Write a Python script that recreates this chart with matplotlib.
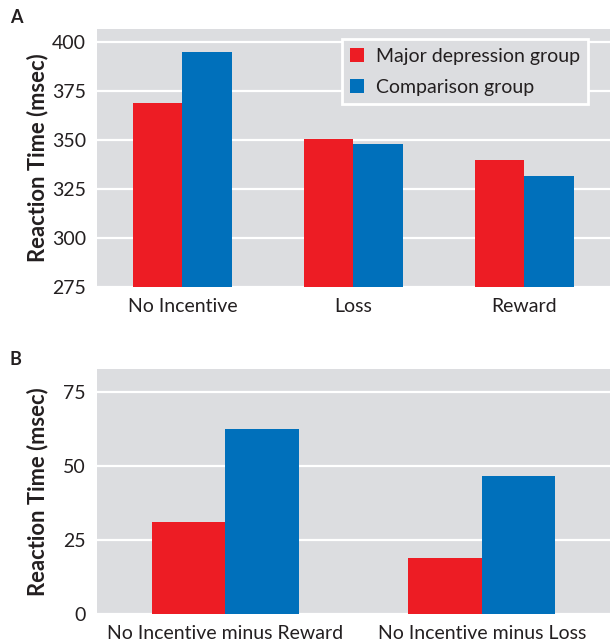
import numpy as np
import matplotlib
matplotlib.use("Agg")
import matplotlib.pyplot as plt

plt.rcParams["font.family"] = ["Lato", "DejaVu Sans"]

# panel A data
conditions = ["No Incentive", "Loss", "Reward"]
depression_rt = [369, 350.5, 340]
comparison_rt = [395, 348, 331.5]

# panel B data
contrasts = ["No Incentive minus Reward", "No Incentive minus Loss"]
depression_diff = [31, 19]
comparison_diff = [62.5, 46.7]

groups = ["Major depression group", "Comparison group"]
RED = "#ed1c24"
BLUE = "#0070bb"
BG = "#dcdde0"
INK = "#231f20"


def style_axis(ax, yticks):
    ax.set_facecolor(BG)
    for s in ax.spines.values():
        s.set_visible(False)
    ax.set_yticks(yticks)
    ax.yaxis.grid(True, color="white", linewidth=1.6)
    ax.set_axisbelow(True)
    ax.tick_params(axis="both", length=0, labelsize=14, colors=INK)
    ax.tick_params(axis="y", pad=8)
    ax.tick_params(axis="x", pad=8)
    ax.set_ylabel("Reaction Time (msec)", fontsize=15.8, fontweight="bold",
                  color=INK)
    # label sits right next to the tick numbers, as in the original
    ax.yaxis.set_label_coords(-0.095, 0.5)


fig = plt.figure(figsize=(6.10, 6.42), dpi=100)

# panel A
axA = fig.add_axes([0.159, 0.553, 0.841, 0.402])
x = np.arange(len(conditions))
w = 0.289
axA.bar(x - w / 2, np.array(depression_rt) - 275, w, bottom=275, color=RED,
        label=groups[0])
axA.bar(x + w / 2, np.array(comparison_rt) - 275, w, bottom=275, color=BLUE,
        label=groups[1])
style_axis(axA, [275, 300, 325, 350, 375, 400])
axA.set_ylim(275, 406.6)
axA.set_xlim(-0.5, 2.5)
axA.set_xticks(x)
axA.set_xticklabels(conditions)
leg = axA.legend(loc="upper left", bbox_to_anchor=(0.477, 0.961), fontsize=14,
                 facecolor=BG, edgecolor="white", framealpha=1, fancybox=False,
                 handlelength=0.72, handleheight=0.72, handletextpad=0.57,
                 borderpad=0.45, labelspacing=0.72, borderaxespad=0)
leg.get_frame().set_linewidth(2)
for t in leg.get_texts():
    t.set_color(INK)

# panel B
axB = fig.add_axes([0.159, 0.0431, 0.841, 0.3821])
xb = np.arange(len(contrasts))
wb = 0.287
axB.bar(xb - wb / 2, depression_diff, wb, color=RED)
axB.bar(xb + wb / 2, comparison_diff, wb, color=BLUE)
style_axis(axB, [0, 25, 50, 75])
axB.set_ylim(0, 82.8)
axB.set_xlim(-0.5, 1.5)
axB.set_xticks(xb)
axB.set_xticklabels(contrasts)

fig.text(0.016, 0.964, "A", fontsize=13, fontweight="bold", color=INK,
         va="baseline")
fig.text(0.016, 0.4315, "B", fontsize=13, fontweight="bold", color=INK,
         va="baseline")

fig.savefig("out.png", dpi=100)
